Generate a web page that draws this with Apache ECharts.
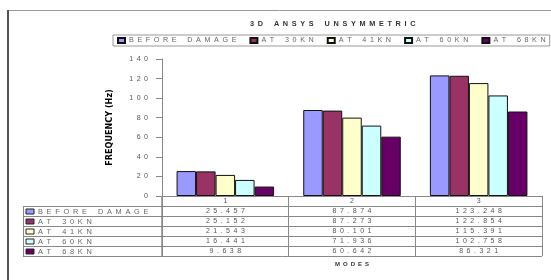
<!DOCTYPE html>
<html>
<head>
<meta charset="utf-8">
<script src="https://cdn.jsdelivr.net/npm/echarts@6/dist/echarts.min.js"></script>
<style>
  html, body { margin: 0; padding: 0; background: #fff; }
  #main { width: 551px; height: 280px; }
</style>
</head>
<body>
<div id="main"></div>
<script>
// data
var categories = ['1', '2', '3'];
var seriesNames = ['BEFORE DAMAGE', 'AT 30KN', 'AT 41KN', 'AT 60KN', 'AT 68KN'];
var beforeDamage = [25.457, 87.874, 123.248];
var at30kn = [25.152, 87.273, 122.854];
var at41kn = [21.543, 80.101, 115.391];
var at60kn = [16.441, 71.936, 102.758];
var at68kn = [9.638, 60.642, 86.321];
var colors = ['#9999FF', '#993366', '#FFFFCC', '#CCFFFF', '#660066'];

var allValues = [beforeDamage, at30kn, at41kn, at60kn, at68kn];

// excel style letter spaced text
function spaced(s) {
  return String(s).split(' ').map(function (w) {
    return w.split('').join('\u2002');
  }).join('\u2002\u2002\u2002');
}

var chart = echarts.init(document.getElementById('main'));

var series = seriesNames.map(function (name, i) {
  return {
    name: name,
    type: 'bar',
    data: allValues[i],
    barGap: '0%',
    barCategoryGap: '23%',
    itemStyle: { color: colors[i], borderColor: '#111', borderWidth: 1 }
  };
});

var option = {
  animation: false,
  title: {
    text: spaced('3D ANSYS UNSYMMETRIC'),
    left: 250,
    top: 20,
    padding: 0,
    textStyle: { fontSize: 7.3, fontWeight: 'bold', color: '#333', fontFamily: 'Liberation Sans' }
  },
  legend: {
    left: 113,
    top: 35,
    width: 450,
    padding: [2, 4, 2, 4],
    itemWidth: 7,
    itemHeight: 5,
    itemGap: 13,
    borderColor: '#999',
    borderWidth: 1,
    icon: 'rect',
    textStyle: { fontSize: 7.2, color: '#666', padding: [0, 0, 0, -1], fontFamily: 'Liberation Sans' },
    formatter: function (n) { return spaced(n); },
    data: seriesNames
  },
  grid: { left: 162, right: 9, top: 59, bottom: 84, containLabel: false },
  xAxis: {
    type: 'category',
    data: categories,
    name: spaced('MODES'),
    nameLocation: 'middle',
    nameGap: 65,
    nameTextStyle: { fontSize: 6, fontWeight: 'bold', color: '#333', fontFamily: 'Liberation Sans' },
    axisLine: { lineStyle: { color: '#888', width: 1 } },
    axisTick: { show: true, length: 60, lineStyle: { color: '#888' } },
    axisLabel: { margin: 2, fontSize: 7, color: '#555', fontFamily: 'Liberation Sans' }
  },
  yAxis: {
    type: 'value',
    min: 0,
    max: 140,
    interval: 20,
    name: 'FREQUENCY (Hz)',
    nameLocation: 'middle',
    nameGap: 48,
    nameRotate: 90,
    nameTextStyle: {
      fontSize: 9,
      fontWeight: 'bold',
      color: '#000',
      fontFamily: '"Liberation Sans Narrow", "DejaVu Sans Condensed", "Liberation Sans", sans-serif'
    },
    axisLine: { show: true, lineStyle: { color: '#888' } },
    axisTick: { show: true, length: 6, lineStyle: { color: '#888' } },
    splitLine: { show: false },
    axisLabel: {
      margin: 14,
      fontSize: 7,
      color: '#555',
      fontFamily: 'Liberation Sans',
      formatter: function (v) { return spaced(v); }
    }
  },
  series: series
};

chart.setOption(option);

// frame and data table under the plot
var tableLeft = 23, tableRight = 542, tableTop = 206, rowH = 10;
var axisX = chart.convertToPixel({ xAxisIndex: 0 }, categories[0]) -
  (chart.convertToPixel({ xAxisIndex: 0 }, categories[1]) - chart.convertToPixel({ xAxisIndex: 0 }, categories[0])) / 2;
var g = [];
// outer frame
g.push({ type: 'line', shape: { x1: 8, y1: 10.5, x2: 551, y2: 10.5 }, style: { stroke: '#999', lineWidth: 1 } });
g.push({ type: 'line', shape: { x1: 8, y1: 10, x2: 8, y2: 280 }, style: { stroke: '#555', lineWidth: 2 } });
// table lines
for (var r = 0; r <= seriesNames.length; r++) {
  var y = tableTop + r * rowH + 0.5;
  g.push({ type: 'line', shape: { x1: tableLeft, y1: y, x2: tableRight, y2: y }, style: { stroke: '#888', lineWidth: 1 } });
}
g.push({ type: 'line', shape: { x1: tableLeft + 0.5, y1: tableTop, x2: tableLeft + 0.5, y2: tableTop + 5 * rowH }, style: { stroke: '#888', lineWidth: 1 } });
g.push({ type: 'line', shape: { x1: axisX, y1: 196, x2: axisX, y2: tableTop + 5 * rowH }, style: { stroke: '#555', lineWidth: 1 } });
seriesNames.forEach(function (name, i) {
  var cy = tableTop + i * rowH + rowH / 2 + 0.5;
  g.push({ type: 'rect', shape: { x: 26, y: cy - 2.5, width: 8, height: 5 }, style: { fill: colors[i], stroke: '#222', lineWidth: 1 } });
  g.push({ type: 'text', x: 38, y: cy, style: { text: spaced(name), fontSize: 7.4, fill: '#666', fontFamily: 'Liberation Sans', verticalAlign: 'middle' } });
  categories.forEach(function (c, j) {
    var cx = chart.convertToPixel({ xAxisIndex: 0 }, c);
    g.push({ type: 'text', x: cx, y: cy, style: { text: spaced(allValues[i][j].toFixed(3)), fontSize: 7, fill: '#555', fontFamily: 'Liberation Sans', align: 'center', verticalAlign: 'middle' } });
  });
});
chart.setOption({ graphic: g });

window.onresize = chart.resize;
</script>
</body>
</html>
